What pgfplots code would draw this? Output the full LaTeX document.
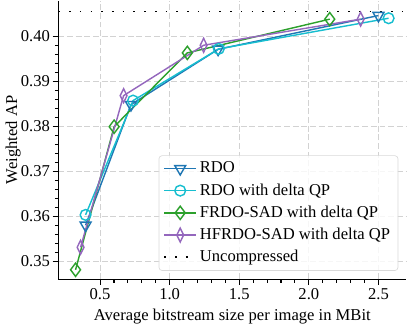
\documentclass[border=0pt]{standalone}
\usepackage{pgfplots}
\pgfplotsset{compat=1.18}
\usepackage{fontspec}
\setmainfont{Liberation Serif}

\definecolor{tabblue}{HTML}{1F77B4}
\definecolor{tabcyan}{HTML}{17BECF}
\definecolor{tabgreen}{HTML}{2CA02C}
\definecolor{tabpurple}{HTML}{9467BD}

\begin{document}
\fontsize{10.5pt}{12.6pt}\selectfont
\begin{tikzpicture}
\begin{axis}[
    scale only axis,
    width=220.4pt,
    height=176.4pt,
    xmin=0.2, xmax=2.7,
    ymin=0.346, ymax=0.4079,
    axis lines=left,
    axis line style={-, line width=0.9pt},
    tick align=outside,
    tick style={black, line width=0.7pt},
    major tick length=3.6pt,
    minor tick length=2.1pt,
    xtick={0.5,1.0,1.5,2.0,2.5},
    ytick={0.35,0.36,0.37,0.38,0.39,0.40},
    minor x tick num=4,
    minor y tick num=4,
    xticklabel style={inner sep=2pt, /pgf/number format/.cd, fixed, fixed zerofill, precision=1},
    yticklabel style={inner sep=1.5pt, /pgf/number format/.cd, fixed, fixed zerofill, precision=2},
    /pgf/number format/assume math mode=true,
    scaled y ticks=false,
    grid=major,
    major grid style={gray!35, line width=0.7pt, dash pattern=on 3.7pt off 1.8pt},
    xlabel={Average bitstream size per image in MBit},
    ylabel={Weighted AP},
    ylabel style={yshift=-5pt},
    xlabel style={yshift=0pt},
    legend cell align=left,
    legend style={
        at={(0.977,0.03)}, anchor=south east,
        draw=gray!30, rounded corners=2pt, fill=white, fill opacity=0.8, text opacity=1,
        row sep=1.2pt, inner xsep=3pt, inner ysep=2pt,
    },
    legend image code/.code={
        \draw[mark repeat=2, mark phase=2, #1] plot coordinates {(0cm,0cm) (0.35cm,0cm) (0.7cm,0cm)};
    },
    every axis plot/.append style={line width=0.9pt},
]
\addplot[tabblue, mark=triangle, mark options={rotate=180, fill=none, line width=0.9pt}, mark size=4pt]
    coordinates {(0.396,0.3580) (0.722,0.3848) (1.348,0.3971) (2.500,0.4046)};
\addlegendentry{RDO}
\addplot[tabcyan, mark=o, mark options={fill=none, line width=0.9pt}, mark size=3.4pt]
    coordinates {(0.396,0.3603) (0.737,0.3857) (1.353,0.3972) (2.573,0.4040)};
\addlegendentry{RDO with delta QP}
\addplot[tabgreen, mark=diamond, mark options={fill=none, line width=0.9pt}, mark size=4.2pt]
    coordinates {(0.324,0.3481) (0.601,0.3799) (1.127,0.3963) (2.150,0.4038)};
\addlegendentry{FRDO-SAD with delta QP}
\addplot[tabpurple, mark=diamond, mark options={fill=none, line width=0.9pt, xscale=0.65}, mark size=4.4pt]
    coordinates {(0.360,0.3531) (0.669,0.3868) (1.244,0.3980) (2.372,0.4038)};
\addlegendentry{HFRDO-SAD with delta QP}
\addplot[black, line width=1pt, dash pattern=on 1pt off 5.8pt, forget plot]
    coordinates {(0.2,0.40553) (2.7,0.40553)};
\addlegendimage{black, line width=1pt, dash pattern=on 1pt off 5.8pt}
\addlegendentry{Uncompressed}
\end{axis}
\end{tikzpicture}
\end{document}
